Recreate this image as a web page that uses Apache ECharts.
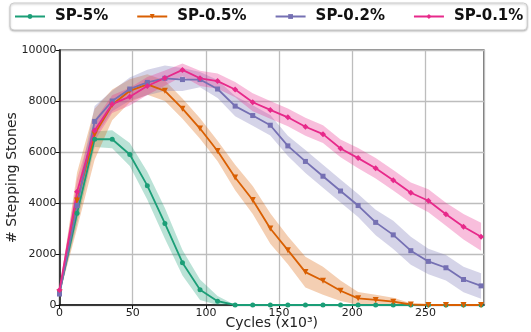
<!DOCTYPE html>
<html>
<head>
<meta charset="utf-8">
<script src="https://cdn.jsdelivr.net/npm/echarts@6/dist/echarts.min.js"></script>
<style>
	html, body { margin: 0; padding: 0; background: #fff; }
	#chart { width: 531px; height: 332px; }
</style>
</head>
<body>
<div id="chart"></div>
<script>
// cycles (x10^3)
var cycles = [0, 12, 24, 36, 48, 60, 72, 84, 96, 108, 120, 132, 144, 156, 168, 180, 192, 204, 216, 228, 240, 252, 264, 276, 288];

var names = ['SP-5%', 'SP-0.5%', 'SP-0.2%', 'SP-0.1%'];
var colors = ['#1b9e77', '#d95f02', '#7570b3', '#e7298a'];

var sp5 = [500, 3600, 6500, 6500, 5900, 4680, 3200, 1660, 600, 150, 0, 0, 0, 0, 0, 0, 0, 0, 0, 0, 0, 0, 0, 0, 0];
var sp5Err = [100, 400, 300, 350, 450, 550, 600, 500, 400, 200, 0, 0, 0, 0, 0, 0, 0, 0, 0, 0, 0, 0, 0, 0, 0];

var sp05 = [500, 4100, 6700, 7850, 8400, 8650, 8400, 7700, 6920, 6040, 5000, 4120, 3000, 2150, 1290, 950, 560, 260, 200, 130, 20, 0, 0, 0, 0];
var sp05Err = [100, 1100, 1000, 600, 450, 400, 400, 400, 400, 400, 500, 550, 600, 550, 600, 550, 400, 250, 200, 150, 50, 0, 0, 0, 0];

var sp02 = [430, 3900, 7200, 8000, 8470, 8730, 8890, 8840, 8840, 8470, 7800, 7430, 7050, 6240, 5630, 5050, 4470, 3900, 3240, 2750, 2130, 1710, 1460, 1000, 750];
var sp02Err = [100, 500, 600, 400, 450, 500, 500, 450, 300, 350, 400, 400, 400, 400, 450, 450, 450, 450, 500, 550, 550, 500, 500, 500, 500];

var sp01 = [590, 4440, 6840, 7880, 8170, 8590, 8900, 9220, 8890, 8780, 8450, 7950, 7650, 7360, 6990, 6700, 6140, 5760, 5360, 4890, 4400, 4090, 3560, 3070, 2680];
var sp01Err = [100, 500, 400, 350, 350, 350, 300, 250, 300, 300, 300, 350, 350, 350, 350, 350, 350, 400, 400, 400, 400, 450, 450, 500, 550];

var means = [sp5, sp05, sp02, sp01];
var errs = [sp5Err, sp05Err, sp02Err, sp01Err];
var symbols = ['circle', 'triangle', 'rect', 'diamond'];
var symbolSizes = [5, 6, 5, 6];
var symbolRotates = [0, 180, 0, 0];

var chart = echarts.init(document.getElementById('chart'));

function pairs(vals) {
	var out = [];
	for (var i = 0; i < cycles.length; i++) {
		out.push([cycles[i], vals[i]]);
	}
	return out;
}

// band polygon: upper edge left->right, lower edge right->left
function bandRenderer(k) {
	return function(params, api) {
		if (params.dataIndex !== 0) return null;
		var pts = [];
		for (var i = 0; i < cycles.length; i++) {
			pts.push(api.coord([cycles[i], means[k][i] + errs[k][i]]));
		}
		for (var i = cycles.length - 1; i >= 0; i--) {
			pts.push(api.coord([cycles[i], Math.max(0, means[k][i] - errs[k][i])]));
		}
		return {
			type: 'polygon',
			shape: { points: pts },
			style: { fill: colors[k], opacity: 0.3 },
			clipPath: {
				type: 'rect',
				shape: params.coordSys
			}
		};
	};
}

var series = [];
for (var k = 0; k < 4; k++) {
	series.push({
		name: 'band' + k,
		type: 'custom',
		renderItem: bandRenderer(k),
		data: pairs(means[k]),
		silent: true,
		z: 1
	});
}
// mean lines
for (var k = 0; k < 4; k++) {
	series.push({
		name: names[k],
		type: 'line',
		data: pairs(means[k]),
		symbol: symbols[k],
		symbolSize: symbolSizes[k],
		symbolRotate: symbolRotates[k],
		showAllSymbol: true,
		itemStyle: { color: colors[k] },
		lineStyle: { color: colors[k], width: 1.8 },
		z: 3
	});
}

var option = {
	animation: false,
	textStyle: { fontFamily: 'DejaVu Sans' },
	legend: {
		data: names,
		left: 10,
		top: 3,
		width: 520,
		padding: [6, 4, 6, 4],
		itemWidth: 30,
		itemHeight: 6,
		itemGap: 28,
		borderColor: '#cccccc',
		borderWidth: 1,
		borderRadius: 4,
		backgroundColor: '#fff',
		shadowColor: 'rgba(0,0,0,0.25)',
		shadowBlur: 2,
		shadowOffsetY: 1,
		textStyle: {
			fontFamily: 'DejaVu Sans',
			fontWeight: 'bold',
			fontSize: 15,
			color: '#111',
			padding: [0, 0, 0, 5]
		}
	},
	grid: {
		left: 59.5,
		right: 47,
		top: 50,
		bottom: 27,
		containLabel: false,
		outerBoundsMode: 'none',
		show: true,
		borderColor: '#222',
		borderWidth: 1.2,
		backgroundColor: 'transparent'
	},
	xAxis: {
		type: 'value',
		min: 0,
		max: 290,
		interval: 50,
		name: 'Cycles (x10³)',
		nameLocation: 'middle',
		nameGap: 11,
		nameMoveOverlap: false,
		nameTextStyle: { fontSize: 14, color: '#222' },
		axisLine: { show: true, onZero: false, lineStyle: { color: '#111', width: 1.5 } },
		axisTick: { show: true, length: 4, lineStyle: { color: '#111' } },
		axisLabel: { fontSize: 11, color: '#222', margin: 3, showMaxLabel: false },
		splitLine: { show: true, lineStyle: { color: '#bdbdbd', width: 1.3 } }
	},
	yAxis: {
		type: 'value',
		min: 0,
		max: 10000,
		interval: 2000,
		name: '# Stepping Stones',
		nameLocation: 'middle',
		nameGap: 40,
		nameRotate: 90,
		nameMoveOverlap: false,
		nameTextStyle: { fontSize: 14, color: '#222' },
		axisLine: { show: true, lineStyle: { color: '#111', width: 1.5 } },
		axisTick: { show: true, length: 4, lineStyle: { color: '#111' } },
		axisLabel: {
			fontSize: 11,
			color: '#222',
			margin: 3,
			formatter: function(v) { return String(v); }
		},
		splitLine: { show: true, lineStyle: { color: '#bdbdbd', width: 1.3 } }
	},
	series: series
};

chart.setOption(option);

window.addEventListener('resize', function() {
	chart.resize();
});
</script>
</body>
</html>
